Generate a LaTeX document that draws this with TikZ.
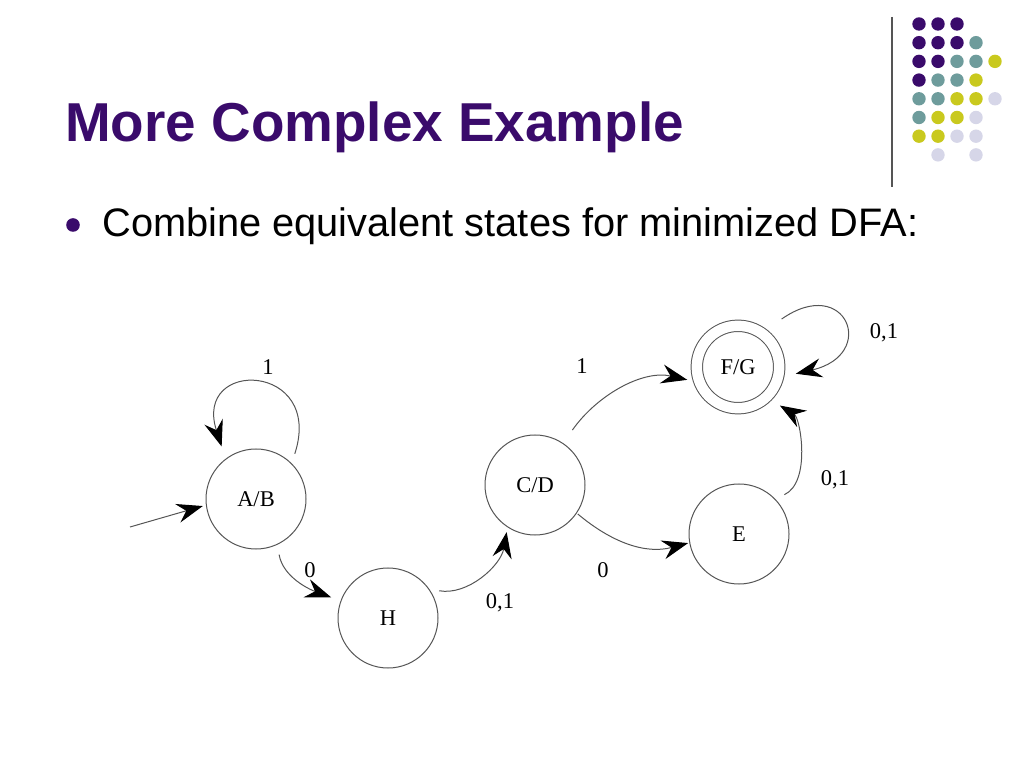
\documentclass[tikz,border=0pt]{standalone}
\usepackage{fontspec}
\setmainfont{Liberation Serif}
\newfontfamily\folienschrift{Liberation Sans}
\usetikzlibrary{arrows.meta,positioning}
\definecolor{lila}{HTML}{3A0B6B}
\definecolor{petrol}{HTML}{6E9C9C}
\definecolor{gelb}{HTML}{C9C91E}
\definecolor{flieder}{HTML}{D6D6E8}
\definecolor{linie}{HTML}{555555}
\tikzstyle{zustand}=[circle,draw=linie,line width=0.25mm,inner sep=0pt,minimum size=25mm,font=\fontsize{16}{19}\selectfont]
\tikzstyle{ende}=[zustand,double,double distance=2.6mm,minimum size=20.6mm]
\tikzstyle{uebergang}=[-{Stealth[length=6.5mm,width=4.8mm,inset=2.2mm,color=black]},draw=linie,line width=0.25mm,shorten >=2.5mm,shorten <=2.5mm]
\tikzstyle{marke}=[inner sep=0pt,font=\fontsize{16}{19}\selectfont]

\begin{document}
\begin{tikzpicture}[x=0.25mm,y=0.25mm]
    \useasboundingbox (0,0) rectangle (1024,768);

    % Kopf
    \node[anchor=base west,inner sep=0pt,text=lila,font=\folienschrift\fontsize{39}{46}\selectfont\bfseries] (titel) at (65,626) {More Complex Example};
    \fill[lila] (73,543) circle (1.7mm);
    \node[anchor=base west,inner sep=0pt,font=\folienschrift\fontsize{28.3}{34}\selectfont] (punkt1) at (102,531) {Combine equivalent states for minimized DFA:};
    \draw[linie,line width=0.3mm] (892,751) -- (892,581);
    \foreach \farbe/\liste in {lila/{0/0,1/0,2/0,0/1,1/1,2/1,0/2,1/2,0/3},
                               petrol/{3/1,2/2,3/2,1/3,2/3,0/4,1/4,0/5},
                               gelb/{4/2,3/3,2/4,3/4,1/5,2/5,0/6,1/6},
                               flieder/{4/4,3/5,2/6,3/6,1/7,3/7}}
        \foreach \c/\r in \liste
            \fill[\farbe] (919+19*\c,744-18.7*\r) circle (1.675mm);

    % Zustaende
    \node[zustand] (ab) at (256,269) {A/B};
    \node[zustand] (h) at (388,150) {H};
    \node[zustand] (cd) at (535,283) {C/D};
    \node[zustand] (e) at (739,234) {E};
    \node[ende] (fg) at (738,401) {F/G};
    \coordinate (start) at (130,241);

    % Uebergaenge
    \draw[uebergang,shorten <=0pt,shorten >=0.8mm] (start) -- (ab.187);
    \draw[uebergang,shorten >=3.2mm] (ab.45) to[out=72,in=108,looseness=4.1] (ab.127);
    \draw[uebergang] (ab.-65) to[out=-80,in=160] (h.160);
    \draw[uebergang,shorten >=1.2mm] (h.35) to[out=-10,in=-100] (cd.237);
    \draw[uebergang,shorten <=4mm,shorten >=3.1mm] (cd.56) to[out=55,in=167] (fg.202);
    \draw[uebergang,shorten <=0.3mm,shorten >=0.3mm] (cd.-34) to[out=-40,in=195] (e.190);
    \draw[uebergang,shorten >=3.9mm] (e.44) to[out=25,in=-31] (fg.-47);
    \draw[uebergang,shorten <=6mm,shorten >=4.5mm] (fg.55) to[out=35,in=13,looseness=5.5] (fg.-15);

    % Beschriftungen
    \node[marke] (m1) at (268,401) {1};
    \node[marke] (m2) at (310,198) {0};
    \node[marke] (m3) at (500,165) {0,1};
    \node[marke] (m4) at (582,402) {1};
    \node[marke] (m5) at (603,198) {0};
    \node[marke] (m6) at (835,288) {0,1};
    \node[marke] (m7) at (884,435) {0,1};

\end{tikzpicture}
\end{document}
